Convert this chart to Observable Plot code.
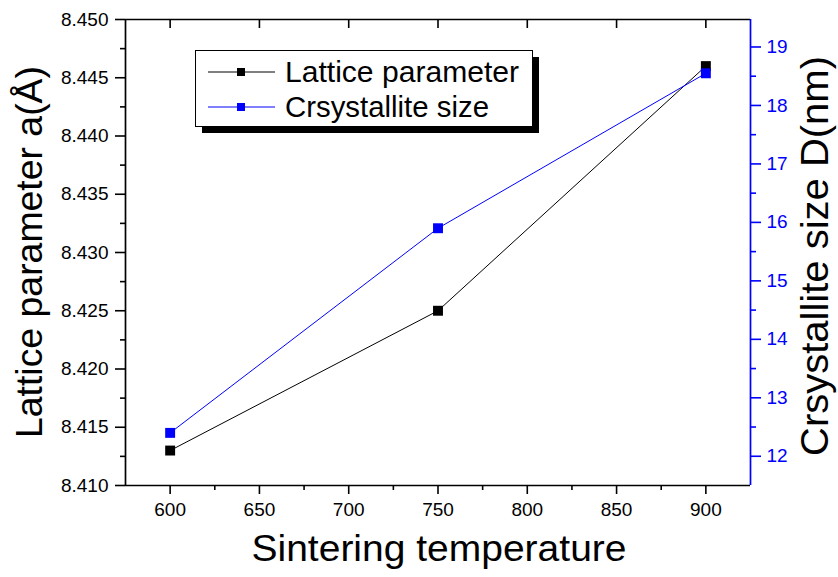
<!DOCTYPE html>
<html><head><meta charset="utf-8">
<script src="https://cdn.jsdelivr.net/npm/d3@7"></script>
<script src="https://cdn.jsdelivr.net/npm/@observablehq/plot@0.6"></script>
<style>
body{margin:0;background:#fff;}
#chart svg{font-family:"Liberation Sans",Arial,Helvetica,sans-serif;background:#fff;overflow:visible;}
</style>
</head><body><div id="chart"></div>
<script>
// ---- data ----
const temperatures = [600, 750, 900];
const latticeParameter = [8.413, 8.425, 8.446];
const crystalliteSize = [12.4, 15.9, 18.55];
const seriesNames = ["Lattice parameter", "Crsystallite size"];
const xTitle = "Sintering temperature";
const leftTitle = "Lattice parameter a(Å)";
const rightTitle = "Crsystallite size D(nm)";
const xTicks = [600, 650, 700, 750, 800, 850, 900];
const xMinorTicks = [625, 675, 725, 775, 825, 875];
const leftTicks = [8.410, 8.415, 8.420, 8.425, 8.430, 8.435, 8.440, 8.445, 8.450];
const leftMinorTicks = [8.4125, 8.4175, 8.4225, 8.4275, 8.4325, 8.4375, 8.4425, 8.4475];
const rightTicks = [12, 13, 14, 15, 16, 17, 18, 19];
const rightMinorTicks = [12.5, 13.5, 14.5, 15.5, 16.5, 17.5, 18.5];
const xDomain = [575, 925];
const leftDomain = [8.410, 8.450];
const rightDomain = [11.5, 19.47];

const BLUE = "#0000ff";
const toLeft = v => leftDomain[0] + (v - rightDomain[0]) / (rightDomain[1] - rightDomain[0]) * (leftDomain[1] - leftDomain[0]);
const fromLeft = y => rightDomain[0] + (y - leftDomain[0]) / (leftDomain[1] - leftDomain[0]) * (rightDomain[1] - rightDomain[0]);

const latticeRows = temperatures.map((t, i) => ({t, v: latticeParameter[i]}));
const sizeRows = temperatures.map((t, i) => ({t, v: toLeft(crystalliteSize[i])}));

const W = 838, H = 577;
const TF = 19;
const chart = Plot.plot({
  width: W, height: H,
  marginLeft: 125, marginRight: 88, marginTop: 19, marginBottom: 92,
  style: {fontSize: TF + "px", fontFamily: '"Liberation Sans", Arial, sans-serif', color: "black"},
  x: {domain: xDomain, axis: null},
  y: {domain: leftDomain, axis: null},
  marks: [
    Plot.axisX({ticks: xTicks, anchor: "bottom", tickSize: 9, tickPadding: 8, strokeWidth: 1.6, tickFormat: d => String(d), label: null, fontSize: TF}),
    Plot.axisX({ticks: xMinorTicks, anchor: "bottom", tickSize: 5, strokeWidth: 1.6, tickFormat: () => "", label: null}),
    Plot.axisX({ticks: xTicks, anchor: "top", tickSize: 8, insetTop: 8, strokeWidth: 1.6, tickFormat: () => "", label: null}),
    Plot.axisY({ticks: leftTicks, anchor: "left", tickSize: 10, tickPadding: 7, strokeWidth: 1.6, tickFormat: d3.format(".3f"), label: null, fontSize: TF}),
    Plot.axisY({ticks: leftMinorTicks, anchor: "left", tickSize: 5, strokeWidth: 1.6, tickFormat: () => "", label: null}),
    Plot.axisY({ticks: rightTicks.map(toLeft), anchor: "right", tickSize: 10, tickPadding: 6, strokeWidth: 1.6, color: BLUE, tickFormat: d => String(Math.round(fromLeft(d))), label: null, fontSize: TF}),
    Plot.axisY({ticks: rightMinorTicks.map(toLeft), anchor: "right", tickSize: 5, strokeWidth: 1.6, color: BLUE, tickFormat: () => "", label: null}),
    Plot.ruleY([leftDomain[0], leftDomain[1]], {stroke: "black", strokeWidth: 1.7}),
    Plot.ruleX([xDomain[0]], {stroke: "black", strokeWidth: 1.7}),
    Plot.line(latticeRows, {x: "t", y: "v", stroke: "black", strokeWidth: 1}),
    Plot.dot(latticeRows, {x: "t", y: "v", symbol: "square", r: 5.6, fill: "black", stroke: null}),
    Plot.line(sizeRows, {x: "t", y: "v", stroke: BLUE, strokeWidth: 1}),
    Plot.dot(sizeRows, {x: "t", y: "v", symbol: "square", r: 5.6, fill: BLUE, stroke: null}),
    Plot.ruleX([xDomain[1]], {stroke: BLUE, strokeWidth: 1.7})
  ]
});
document.getElementById("chart").appendChild(chart);

// ---- titles & legend ----
const svg = d3.select(chart);
const font = '"Liberation Sans", Arial, sans-serif';
svg.append("text").attr("x", 439).attr("y", 561).attr("text-anchor", "middle")
  .attr("font-size", 37).attr("font-family", font).attr("fill", "black")
  .attr("textLength", 375).attr("lengthAdjust", "spacingAndGlyphs").text(xTitle);
svg.append("text").attr("transform", "translate(42,252) rotate(-90)").attr("text-anchor", "middle")
  .attr("font-size", 37).attr("font-family", font).attr("fill", "black")
  .attr("textLength", 372).attr("lengthAdjust", "spacingAndGlyphs").text(leftTitle);
svg.append("text").attr("transform", "translate(828,256) rotate(-90)").attr("text-anchor", "middle")
  .attr("font-size", 38).attr("font-family", font).attr("fill", "black")
  .attr("textLength", 400).attr("lengthAdjust", "spacingAndGlyphs").text(rightTitle);

const lg = svg.append("g");
lg.append("rect").attr("x", 202).attr("y", 57).attr("width", 337).attr("height", 76).attr("fill", "black");
lg.append("rect").attr("x", 195.5).attr("y", 50.5).attr("width", 337).attr("height", 76).attr("fill", "white").attr("stroke", "black").attr("stroke-width", 1);
const colors = ["black", BLUE];
const legendWidths = [234, 204];
seriesNames.forEach((name, i) => {
  const cy = 72 + i * 35;
  lg.append("line").attr("x1", 208).attr("x2", 275).attr("y1", cy).attr("y2", cy).attr("stroke", colors[i]).attr("stroke-width", 1);
  lg.append("rect").attr("x", 237).attr("y", cy - 4).attr("width", 8).attr("height", 8).attr("fill", colors[i]);
  lg.append("text").attr("x", 285).attr("y", cy + 10).attr("text-anchor", "start")
    .attr("font-size", 29).attr("font-family", font).attr("fill", "black")
    .attr("textLength", legendWidths[i]).attr("lengthAdjust", "spacingAndGlyphs").text(name);
});
</script>
</body></html>
